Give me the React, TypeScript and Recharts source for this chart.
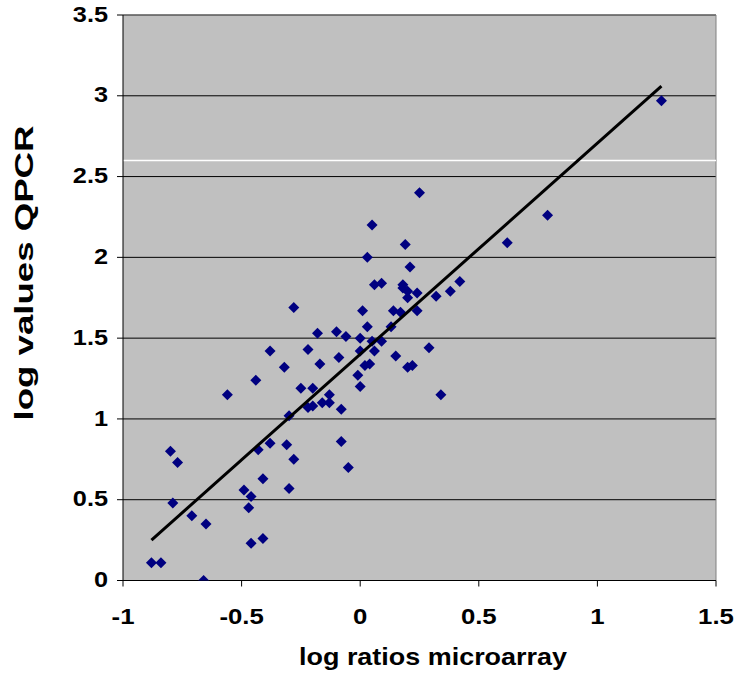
import { CartesianGrid, ReferenceLine, Scatter, ScatterChart, XAxis, YAxis } from 'recharts';

// log ratios from the microarray, one per gene
const MICROARRAY = [
  -0.88, -0.84, -0.66, -0.8, -0.77, -0.79, -0.71, -0.65, -0.56, -0.49,
  -0.46, -0.47, -0.46, -0.41, -0.41, -0.43, -0.38, -0.44, -0.38, -0.32,
  -0.31, -0.28, -0.3, -0.3, -0.28, -0.25, -0.2, -0.22, -0.18, -0.17,
  -0.22, -0.2, -0.16, -0.13, -0.13, -0.1, -0.09, -0.08, -0.08, -0.05,
  -0.06, 0.0, 0.0, -0.01, 0.0, 0.01, 0.02, 0.04, 0.03, 0.05,
  0.06, 0.03, 0.05, 0.06, 0.09, 0.09, 0.13, 0.14, 0.15, 0.17,
  0.18, 0.18, 0.2, 0.2, 0.19, 0.21, 0.2, 0.22, 0.24, 0.24,
  0.25, 0.29, 0.32, 0.34, 0.38, 0.42, 0.62, 0.79, 1.27,
];

// matching log values from QPCR
const QPCR = [
  0.11, 0.11, 0.0, 0.8, 0.73, 0.48, 0.4, 0.35, 1.15, 0.56,
  0.52, 0.45, 0.23, 0.26, 0.63, 0.81, 0.85, 1.24, 1.42, 1.32,
  0.84, 0.75, 0.57, 1.02, 1.69, 1.19, 1.19, 1.43, 1.53, 1.34,
  1.07, 1.08, 1.1, 1.1, 1.15, 1.54, 1.38, 1.06, 0.86, 0.7,
  1.51, 1.5, 1.42, 1.27, 1.2, 1.67, 1.33, 1.34, 1.57, 1.48,
  1.42, 2.0, 2.2, 1.83, 1.84, 1.48, 1.57, 1.67, 1.39, 1.66,
  1.83, 1.81, 1.79, 1.75, 2.08, 1.94, 1.32, 1.33, 1.78, 1.67,
  2.4, 1.44, 1.76, 1.15, 1.79, 1.85, 2.09, 2.26, 2.97,
];

// linear trend line end points
const TREND_X = [-0.88, 1.27];
const TREND_Y = [0.25, 3.06];

const X_TICKS = [-1, -0.5, 0, 0.5, 1, 1.5];
const Y_TICKS = [0, 0.5, 1, 1.5, 2, 2.5, 3, 3.5];
const WHITE_LINE_Y = 2.6;

const points = MICROARRAY.map((x, i) => ({ x, y: QPCR[i] }));
const trend = TREND_X.map((x, i) => ({ x, y: TREND_Y[i] }));

const FONT = '"Liberation Sans", Arial, sans-serif';

function Diamond(props: any) {
  const { cx, cy } = props;
  if (cx == null || cy == null) return <g />;
  const r = 5.5;
  return (
    <path d={`M${cx},${cy - r}L${cx + r},${cy}L${cx},${cy + r}L${cx - r},${cy}Z`} fill="#000080" />
  );
}

function XTick({ x, y, payload }: any) {
  return (
    <text
      transform={`translate(${x},${y + 35}) scale(1.12,1)`}
      textAnchor="middle"
      fontFamily={FONT}
      fontWeight="bold"
      fontSize={23}
      fill="#000"
    >
      {payload.value}
    </text>
  );
}

function YTick({ x, y, payload }: any) {
  return (
    <text
      transform={`translate(${x - 7},${y}) scale(1.15,1)`}
      textAnchor="end"
      dy="0.3em"
      fontFamily={FONT}
      fontWeight="bold"
      fontSize={22}
      fill="#000"
    >
      {payload.value}
    </text>
  );
}

export default function App() {
  return (
    <div style={{ position: 'absolute', left: 0, top: 0, width: 740, height: 684, background: '#fff' }}>
      <ScatterChart width={740} height={684} margin={{ top: 15, right: 24, bottom: 43.5, left: 63 }}>
        <CartesianGrid vertical={false} stroke="#000" fill="#C0C0C0" fillOpacity={1} />
        <XAxis
          type="number"
          dataKey="x"
          domain={[-1, 1.5]}
          ticks={X_TICKS}
          height={60}
          stroke="#000"
          tickSize={6}
          tick={<XTick />}
          allowDataOverflow
        />
        <YAxis
          type="number"
          dataKey="y"
          domain={[0, 3.5]}
          ticks={Y_TICKS}
          width={60}
          stroke="#000"
          tickSize={6}
          tick={<YTick />}
          allowDataOverflow
        />
        <ReferenceLine y={3.5} stroke="#808080" />
        <ReferenceLine x={1.5} stroke="#808080" />
        <ReferenceLine y={WHITE_LINE_Y} stroke="#fff" strokeWidth={1.5} />
        <Scatter data={points} shape={<Diamond />} isAnimationActive={false} />
        <Scatter
          data={trend}
          line={{ stroke: '#000', strokeWidth: 3 }}
          shape={() => <g />}
          isAnimationActive={false}
        />
      </ScatterChart>
      <svg width={740} height={684} style={{ position: 'absolute', left: 0, top: 0, pointerEvents: 'none' }}>
        <text
          x={433}
          y={665}
          textAnchor="middle"
          fontFamily={FONT}
          fontWeight="bold"
          fontSize={24}
          textLength={268}
          lengthAdjust="spacingAndGlyphs"
        >
          log ratios microarray
        </text>
        <text
          transform="translate(33,273) rotate(-90)"
          textAnchor="middle"
          fontFamily={FONT}
          fontWeight="bold"
          fontSize={25}
          textLength={295}
          lengthAdjust="spacingAndGlyphs"
        >
          log values QPCR
        </text>
      </svg>
    </div>
  );
}
